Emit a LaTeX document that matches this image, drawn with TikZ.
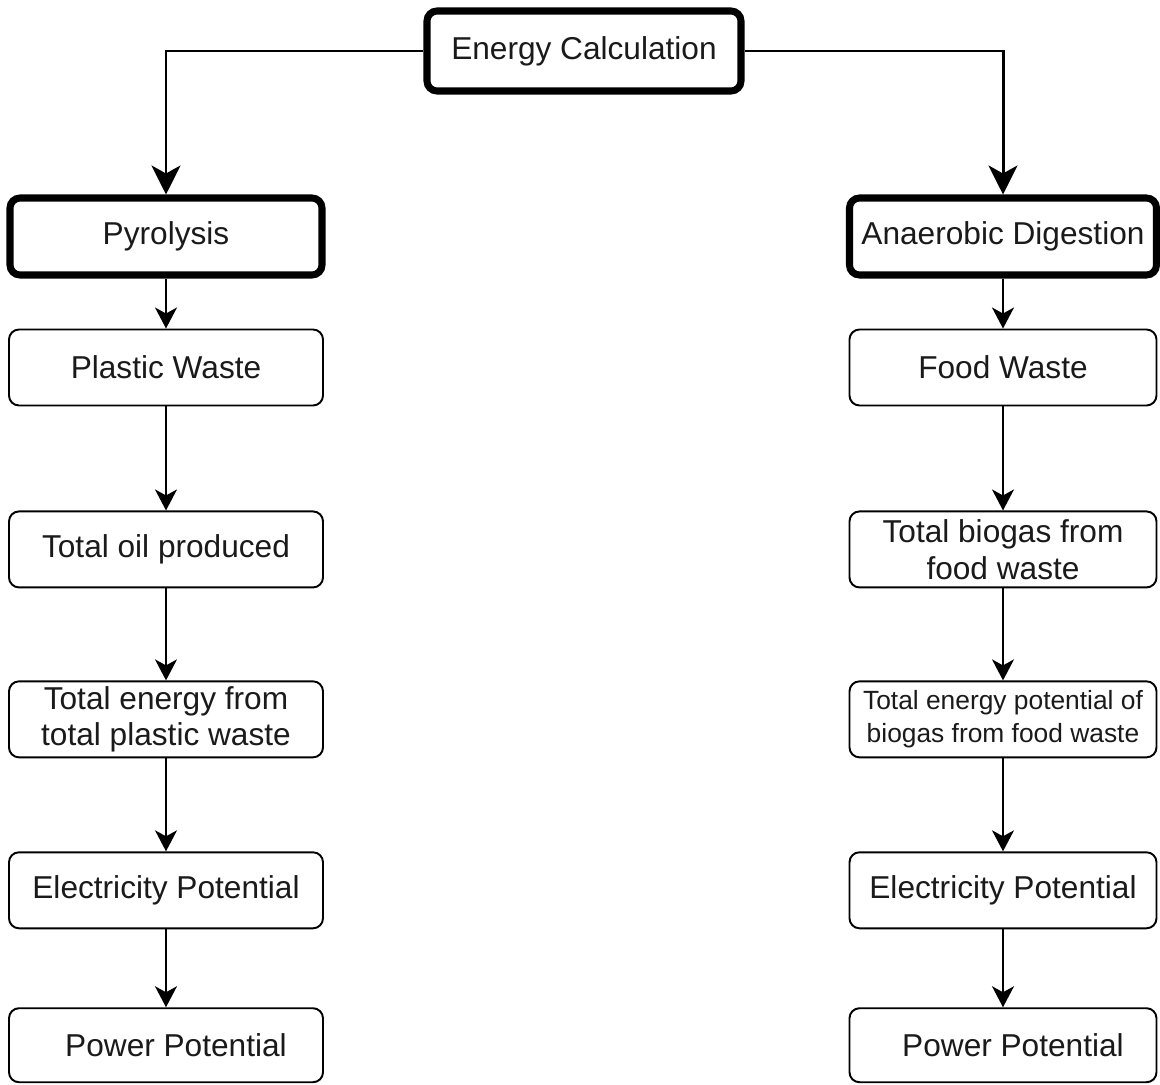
\documentclass[tikz,border=0pt]{standalone}
\usepackage{fontspec}
\setmainfont{Liberation Sans}
\usetikzlibrary{arrows.meta,positioning}
\definecolor{Ink}{HTML}{1A1A1A}

\begin{document}
\begin{tikzpicture}[node distance=1cm,
      box/.style={draw=black,line width=1.1pt,fill=white,rounded corners=0.2cm,inner ysep=2pt,
        minimum height=1.52cm,align=center,text=Ink,font=\fontsize{18}{21}\selectfont},
      mainbox/.style={box,line width=4pt,minimum height=1.54cm},
      arr/.style={-{Stealth[length=0.42cm,width=0.44cm,inset=0.12cm]},line width=1.1pt},
      bigarr/.style={-{Stealth[length=0.58cm,width=0.58cm,inset=0.16cm]},line width=1.7pt}]
      \useasboundingbox (0,0) rectangle (23.2,-21.7);
      \node[mainbox,minimum width=6.28cm,minimum height=1.6cm] (calc) at (11.68,-1.02) {Energy Calculation};
      \node[mainbox,minimum width=6.24cm] (pyro) at (3.32,-4.73) {Pyrolysis};
      \node[mainbox,minimum width=6.14cm] (anaer) at (20.06,-4.73) {Anaerobic Digestion};
      % pyrolysis side
      \node[box,minimum width=6.28cm,below=1cm of pyro] (plastic) {Plastic Waste};
      \node[box,minimum width=6.28cm,below=2.08cm of plastic] (oil) {Total oil produced};
      \node[box,minimum width=6.28cm,below=1.84cm of oil] (plasticenergy) {Total energy from\\total plastic waste};
      \node[box,minimum width=6.28cm,below=1.86cm of plasticenergy] (plasticelec) {Electricity Potential};
      \node[box,minimum width=6.28cm,minimum height=1.48cm,below=1.56cm of plasticelec] (plasticpower) {\hspace*{0.4cm}Power Potential};
      % digestion side
      \node[box,minimum width=6.14cm,below=1cm of anaer] (food) {Food Waste};
      \node[box,minimum width=6.14cm,below=2.08cm of food] (biogas) {Total biogas from\\food waste};
      \node[box,minimum width=6.14cm,below=1.84cm of biogas,font=\fontsize{15}{18.5}\selectfont] (biogasenergy) {Total energy potential of\\biogas from food waste};
      \node[box,minimum width=6.14cm,below=1.86cm of biogasenergy] (foodelec) {Electricity Potential};
      \node[box,minimum width=6.14cm,minimum height=1.48cm,below=1.56cm of foodelec] (foodpower) {\hspace*{0.4cm}Power Potential};
      \draw[bigarr] (calc) -| (pyro);
      \draw[bigarr] (calc) -| (anaer);
      \draw[arr] (pyro) -- (plastic);
      \draw[arr] (plastic) -- (oil);
      \draw[arr] (oil) -- (plasticenergy);
      \draw[arr] (plasticenergy) -- (plasticelec);
      \draw[arr] (plasticelec) -- (plasticpower);
      \draw[arr] (anaer) -- (food);
      \draw[arr] (food) -- (biogas);
      \draw[arr] (biogas) -- (biogasenergy);
      \draw[arr] (biogasenergy) -- (foodelec);
      \draw[arr] (foodelec) -- (foodpower);
    \end{tikzpicture}
\end{document}
